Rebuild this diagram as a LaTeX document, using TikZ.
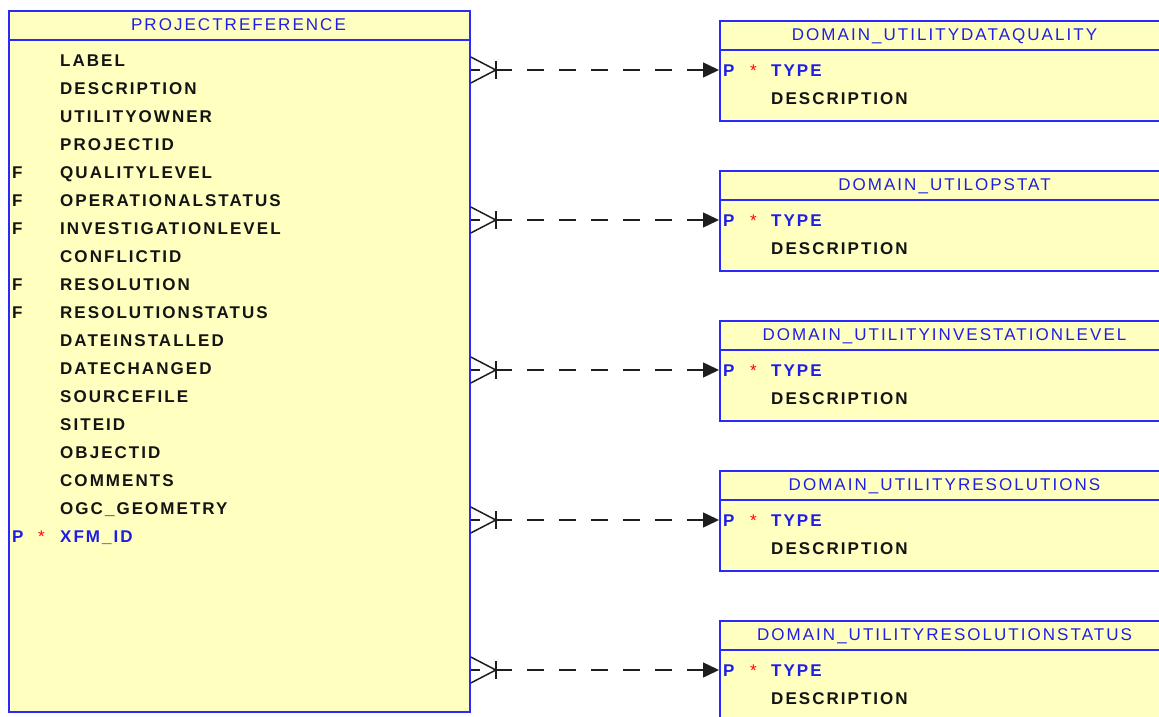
\documentclass[tikz,border=0pt]{standalone}
\usepackage{fontspec}
\setmainfont{Liberation Sans}[LetterSpace=12]
\usetikzlibrary{arrows.meta}
\definecolor{tblfill}{RGB}{255,255,192}
\definecolor{tblborder}{RGB}{40,40,255}
\definecolor{keyblue}{RGB}{30,30,230}
\definecolor{fieldblack}{RGB}{20,20,20}
\definecolor{linegray}{RGB}{30,30,30}
\tikzset{
  tbl/.style={draw=tblborder, fill=tblfill, line width=1.8pt, rectangle, inner sep=0pt, anchor=north west},
  sepline/.style={draw=tblborder, line width=1.8pt},
  title/.style={font=\fontsize{17}{17}\selectfont, text=keyblue, anchor=base, inner sep=0pt},
  field/.style={font=\fontsize{17}{17}\selectfont\bfseries, text=fieldblack, anchor=base west, inner sep=0pt},
  keyfield/.style={font=\fontsize{17}{17}\selectfont\bfseries, text=keyblue, anchor=base west, inner sep=0pt},
  star/.style={font=\fontsize{17}{17}\selectfont, text=red, anchor=base west, inner sep=0pt},
  conn/.style={draw=linegray, line width=1.5pt},
  dashconn/.style={conn, dash pattern=on 17pt off 15pt, dash phase=8pt, -{Triangle[length=16pt,width=15pt]}},
}
\begin{document}
\begin{tikzpicture}[x=1pt,y=-1pt]
\path[use as bounding box] (0,0) rectangle (1159,717);
\clip (0,0) rectangle (1159,717);
% main table
\node[tbl, minimum width=461pt, minimum height=701pt] (main) at (8,10) {};
\draw[sepline] ([yshift=-30pt]main.north west) -- ([yshift=-30pt]main.north east);
\node[title] (maint) at (238.5,30.1) {PROJECTREFERENCE};
\foreach \name [count=\i from 0] in {LABEL,DESCRIPTION,UTILITYOWNER,PROJECTID,QUALITYLEVEL,OPERATIONALSTATUS,INVESTIGATIONLEVEL,CONFLICTID,RESOLUTION,RESOLUTIONSTATUS,DATEINSTALLED,DATECHANGED,SOURCEFILE,SITEID,OBJECTID,COMMENTS,OGC\_GEOMETRY}{
  \node[field] (mf\i) at (60,66.1+28*\i) {\name};
}
\foreach \i in {4,5,6,8,9}{
  \node[field] (mfk\i) at (12,66.1+28*\i) {F};
}
\node[keyfield] (mpk) at (12,542.1) {P};
\node[star] (mstar) at (38,542.1) {*};
\node[keyfield] (mxfm) at (60,542.1) {XFM\_ID};
% domain tables
\foreach \t/\title [count=\k] in {20/DOMAIN\_UTILITYDATAQUALITY,170/DOMAIN\_UTILOPSTAT,320/DOMAIN\_UTILITYINVESTATIONLEVEL,470/DOMAIN\_UTILITYRESOLUTIONS,620/DOMAIN\_UTILITYRESOLUTIONSTATUS}{
  \node[tbl, minimum width=451pt, minimum height=100pt] (d\k) at (719,\t) {};
  \draw[sepline] ([yshift=-30pt]d\k.north west) -- ([yshift=-30pt]d\k.north east);
  \node[title] (d\k t) at (944.5,\t+20.1) {\title};
  \node[keyfield] (d\k p) at (723,\t+56.1) {P};
  \node[star] (d\k s) at (750,\t+56.1) {*};
  \node[keyfield] (d\k type) at (771,\t+56.1) {TYPE};
  \node[field] (d\k desc) at (771,\t+84.1) {DESCRIPTION};
  \coordinate (e\k) at ([yshift=-50pt]d\k.north west);
  \coordinate (s\k) at (main.east |- e\k);
  % connector
  \draw[dashconn] (s\k) -- (e\k);
  \draw[conn] ([yshift=13pt]s\k) -- ([xshift=25pt]s\k) -- ([yshift=-13pt]s\k);
  \draw[conn] ([xshift=25pt,yshift=9pt]s\k) -- ([xshift=25pt,yshift=-9pt]s\k);
}
\end{tikzpicture}
\end{document}
